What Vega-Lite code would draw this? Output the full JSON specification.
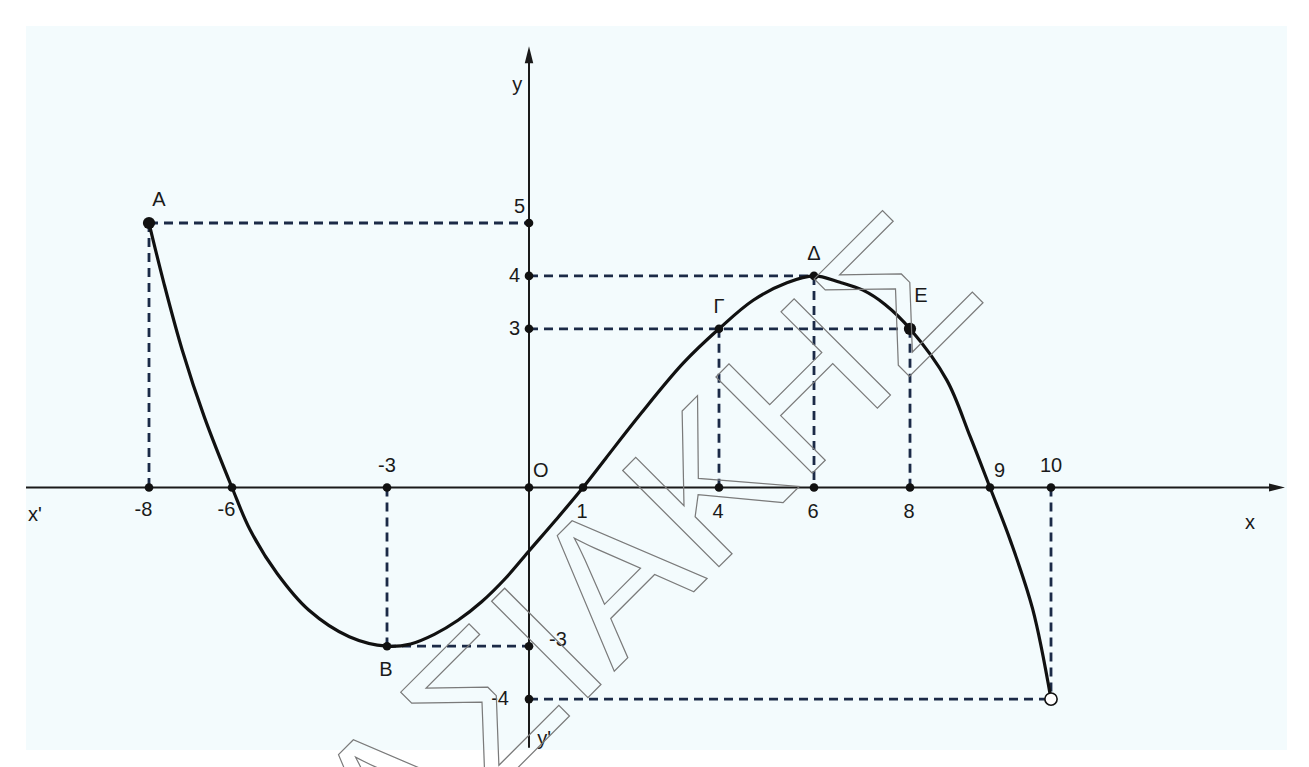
{
  "$schema": "https://vega.github.io/schema/vega-lite/v6.json",
  "width": 1261,
  "height": 724,
  "padding": {"left": 26, "top": 26, "right": 22, "bottom": 17},
  "autosize": {"type": "none"},
  "background": "#ffffff",
  "config": {
    "view": {"fill": "#f3fbfd", "stroke": null},
    "text": {"font": "Liberation Sans", "fontSize": 20, "color": "#1a1a1a"}
  },
  "datasets": {
    "curve": [
      {"x": -8, "y": 5}, {"x": -7.64, "y": 3.86}, {"x": -7.2, "y": 2.6}, {"x": -6.67, "y": 1.34},
      {"x": -6, "y": 0}, {"x": -5.65, "y": -0.8}, {"x": -5.13, "y": -1.62}, {"x": -4.51, "y": -2.32},
      {"x": -3.73, "y": -2.82}, {"x": -3, "y": -3}, {"x": -2.5, "y": -2.957}, {"x": -2, "y": -2.776},
      {"x": -1.5, "y": -2.51}, {"x": -1, "y": -2.16}, {"x": -0.5, "y": -1.72}, {"x": 0, "y": -1.2},
      {"x": 0.5, "y": -0.61}, {"x": 1, "y": 0}, {"x": 1.5, "y": 0.55}, {"x": 2.26, "y": 1.38},
      {"x": 3.21, "y": 2.35}, {"x": 4, "y": 3}, {"x": 4.72, "y": 3.54}, {"x": 5.43, "y": 3.87},
      {"x": 6, "y": 4}, {"x": 6.54, "y": 3.88}, {"x": 7.02, "y": 3.73}, {"x": 7.48, "y": 3.46},
      {"x": 8, "y": 3}, {"x": 8.46, "y": 2.03}, {"x": 8.75, "y": 0.97}, {"x": 9, "y": 0},
      {"x": 9.33, "y": -0.99}, {"x": 9.7, "y": -2.3}, {"x": 10, "y": -4}
    ],
    "axes": [
      {"x": -10.59, "x2": 14.76, "y": 0, "y2": 0},
      {"x": 0, "x2": 0, "y": -4.92, "y2": 8.18}
    ],
    "arrowX": [{"x": 14.76, "y": 0}],
    "arrowY": [{"x": 0, "y": 8.18}],
    "guides": [
      {"x": -8, "x2": 0, "y": 5, "y2": 5},
      {"x": -8, "x2": -8, "y": 5, "y2": 0},
      {"x": -3, "x2": -3, "y": 0, "y2": -3},
      {"x": -3, "x2": 0, "y": -3, "y2": -3},
      {"x": 0, "x2": 6, "y": 4, "y2": 4},
      {"x": 6, "x2": 6, "y": 4, "y2": 0},
      {"x": 0, "x2": 8, "y": 3, "y2": 3},
      {"x": 4, "x2": 4, "y": 3, "y2": 0},
      {"x": 8, "x2": 8, "y": 3, "y2": 0},
      {"x": 0, "x2": 10, "y": -4, "y2": -4},
      {"x": 10, "x2": 10, "y": 0, "y2": -4}
    ],
    "dots": [
      {"x": -8, "y": 0}, {"x": -6, "y": 0}, {"x": -3, "y": 0}, {"x": 0, "y": 0}, {"x": 1, "y": 0},
      {"x": 4, "y": 0}, {"x": 6, "y": 0}, {"x": 8, "y": 0}, {"x": 9, "y": 0}, {"x": 10, "y": 0},
      {"x": 0, "y": 5}, {"x": 0, "y": 4}, {"x": 0, "y": 3}, {"x": 0, "y": -3}, {"x": 0, "y": -4},
      {"x": -3, "y": -3}, {"x": 4, "y": 3}, {"x": 6, "y": 4}
    ],
    "bigDots": [{"x": -8, "y": 5, "name": "A"}, {"x": 8, "y": 3, "name": "Ε"}],
    "openDot": [{"x": 10, "y": -4}],
    "labNegBelow": [{"x": -8, "y": 0, "t": "-8"}, {"x": -6, "y": 0, "t": "-6"}],
    "labBelow": [
      {"x": 1, "y": 0, "t": "1"}, {"x": 4, "y": 0, "t": "4"}, {"x": 6, "y": 0, "t": "6"},
      {"x": 8, "y": 0, "t": "8"}, {"x": -3, "y": -3, "t": "Β"}
    ],
    "labAbove": [
      {"x": -3, "y": 0, "t": "-3"}, {"x": 10, "y": 0, "t": "10"},
      {"x": 4, "y": 3, "t": "Γ"}, {"x": 6, "y": 4, "t": "Δ"}
    ],
    "labAboveRight": [{"x": 0, "y": 0, "t": "O"}, {"x": 9, "y": 0, "t": "9"}],
    "labYLeft": [{"x": 0, "y": 4, "t": "4"}, {"x": 0, "y": 3, "t": "3"}],
    "labY5": [{"x": 0, "y": 5, "t": "5"}],
    "labYm4": [{"x": 0, "y": -4, "t": "-4"}],
    "labYm3": [{"x": 0, "y": -3, "t": "-3"}],
    "labA": [{"x": -8, "y": 5, "t": "A"}],
    "labE": [{"x": 8, "y": 3, "t": "Ε"}],
    "axisNames": [
      {"x": -10.4, "y": -0.52, "t": "x'"},
      {"x": 14.19, "y": -0.68, "t": "x"},
      {"x": -0.25, "y": 7.61, "t": "y"},
      {"x": 0.28, "y": -4.75, "t": "y'"}
    ],
    "wm": [{"x": 2.48, "y": -1.22, "t": "ΑΣΙΑΚΗΣ"}]
  },
  "encoding": {
    "x": {
      "field": "x", "type": "quantitative", "axis": null,
      "scale": {
        "type": "linear", "nice": false, "zero": false,
        "domain": [-10.59, -8, -6, -3, 0, 1, 4, 6, 8, 9, 10, 14.97],
        "range": [0, 123, 206, 361, 503, 557, 693, 788, 884, 964, 1025, 1261]
      }
    },
    "y": {
      "field": "y", "type": "quantitative", "axis": null,
      "scale": {"type": "linear", "nice": false, "zero": false, "domain": [-4.962, 8.724], "range": [724, 0]}
    }
  },
  "layer": [
    {
      "data": {"name": "guides"},
      "mark": {"type": "rule", "stroke": "#1b2a47", "strokeWidth": 2.8, "strokeDash": [9, 6]},
      "encoding": {"x2": {"field": "x2"}, "y2": {"field": "y2"}}
    },
    {
      "data": {"name": "axes"},
      "mark": {"type": "rule", "stroke": "#1a1a1a", "strokeWidth": 2},
      "encoding": {"x2": {"field": "x2"}, "y2": {"field": "y2"}}
    },
    {
      "data": {"name": "arrowX"},
      "mark": {"type": "point", "shape": "M-1,-0.5L1,0L-1,0.5Z", "size": 256, "filled": true, "color": "#1a1a1a", "opacity": 1}
    },
    {
      "data": {"name": "arrowY"},
      "mark": {"type": "point", "shape": "M-0.5,1L0,-1L0.5,1Z", "size": 289, "filled": true, "color": "#1a1a1a", "opacity": 1}
    },
    {
      "data": {"name": "curve"},
      "mark": {"type": "line", "interpolate": "catmull-rom", "stroke": "#111111", "strokeWidth": 3.2}
    },
    {
      "data": {"name": "dots"},
      "mark": {"type": "circle", "size": 75, "color": "#111111", "opacity": 1}
    },
    {
      "data": {"name": "bigDots"},
      "mark": {"type": "circle", "size": 150, "color": "#111111", "opacity": 1}
    },
    {
      "data": {"name": "openDot"},
      "mark": {"type": "point", "shape": "circle", "size": 150, "fill": "#ffffff", "stroke": "#111111", "strokeWidth": 1.6, "filled": false, "opacity": 1, "fillOpacity": 1}
    },
    {
      "data": {"name": "labNegBelow"},
      "mark": {"type": "text", "align": "center", "baseline": "middle", "dx": -5.5, "dy": 22},
      "encoding": {"text": {"field": "t"}}
    },
    {
      "data": {"name": "labBelow"},
      "mark": {"type": "text", "align": "center", "baseline": "middle", "dx": -1, "dy": 24},
      "encoding": {"text": {"field": "t"}}
    },
    {
      "data": {"name": "labAbove"},
      "mark": {"type": "text", "align": "center", "baseline": "middle", "dy": -22},
      "encoding": {"text": {"field": "t"}}
    },
    {
      "data": {"name": "labAboveRight"},
      "mark": {"type": "text", "align": "left", "baseline": "middle", "dx": 4, "dy": -17},
      "encoding": {"text": {"field": "t"}}
    },
    {
      "data": {"name": "labYLeft"},
      "mark": {"type": "text", "align": "right", "baseline": "middle", "dx": -9},
      "encoding": {"text": {"field": "t"}}
    },
    {
      "data": {"name": "labY5"},
      "mark": {"type": "text", "align": "right", "baseline": "middle", "dx": -4, "dy": -16.5},
      "encoding": {"text": {"field": "t"}}
    },
    {
      "data": {"name": "labYm4"},
      "mark": {"type": "text", "align": "right", "baseline": "middle", "dx": -20},
      "encoding": {"text": {"field": "t"}}
    },
    {
      "data": {"name": "labYm3"},
      "mark": {"type": "text", "align": "left", "baseline": "middle", "dx": 20, "dy": -6},
      "encoding": {"text": {"field": "t"}}
    },
    {
      "data": {"name": "labA"},
      "mark": {"type": "text", "align": "center", "baseline": "middle", "dx": 10, "dy": -23.5},
      "encoding": {"text": {"field": "t"}}
    },
    {
      "data": {"name": "labE"},
      "mark": {"type": "text", "align": "center", "baseline": "middle", "dx": 11, "dy": -33},
      "encoding": {"text": {"field": "t"}}
    },
    {
      "data": {"name": "axisNames"},
      "mark": {"type": "text", "align": "center", "baseline": "middle"},
      "encoding": {"text": {"field": "t"}}
    },
    {
      "data": {"name": "wm"},
      "mark": {"type": "text", "align": "center", "baseline": "middle", "angle": -45, "fontSize": 198, "font": "Liberation Sans", "fillOpacity": 0, "stroke": "#7a7a7a", "strokeWidth": 1.2},
      "encoding": {"text": {"field": "t"}}
    }
  ]
}
